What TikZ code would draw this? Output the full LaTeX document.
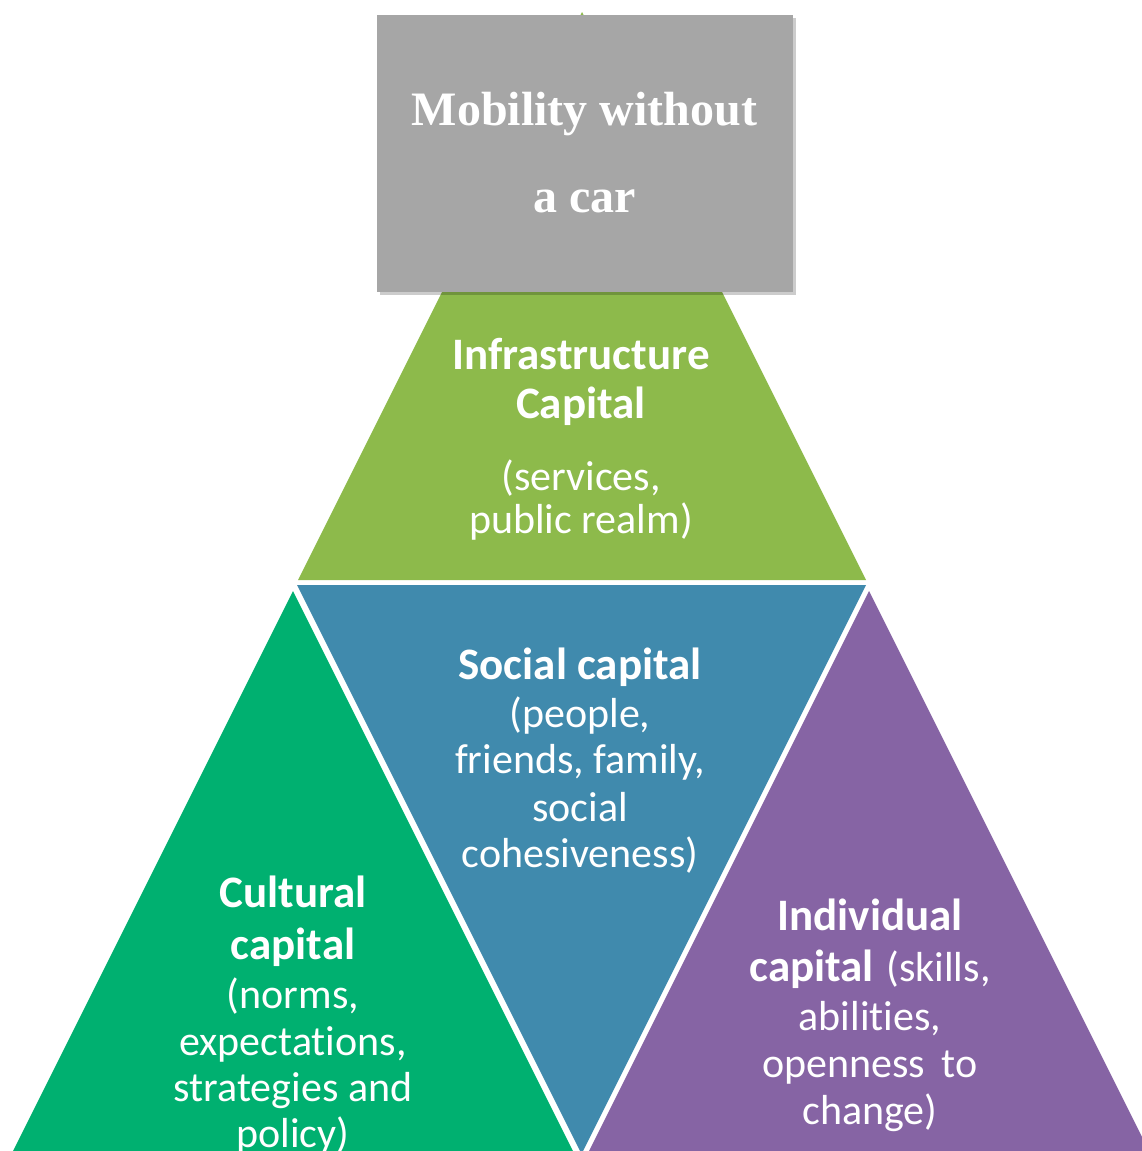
\documentclass[tikz,border=0pt]{standalone}
\usepackage{fontspec}
\setmainfont{Carlito}[Ligatures={NoCommon,NoRequired,NoContextual,NoDiscretionary}]
\newfontfamily\titlefont{Liberation Serif}
\definecolor{boxgrey}{HTML}{A6A6A6}
\definecolor{infragreen}{HTML}{8DBA4B}
\definecolor{socialblue}{HTML}{408AAD}
\definecolor{culturegreen}{HTML}{00B070}
\definecolor{indivpurple}{HTML}{8664A4}
\tikzset{
  boldline/.style={text=white, inner sep=0pt, anchor=base, font=\fontsize{45}{50}\selectfont\bfseries},
  regline/.style={text=white, inner sep=0pt, anchor=base, font=\fontsize{42}{46}\selectfont},
  titleline/.style={text=white, inner sep=0pt, anchor=base, font=\titlefont\fontsize{48}{52}\selectfont\bfseries}
}
\begin{document}
\begin{tikzpicture}[x=1pt,y=-1pt]
\useasboundingbox (0,0) rectangle (1142,1151);
\clip (0,0) rectangle (1142,1151);
\fill[white] (0,0) rectangle (1142,1151);
% triangles
\fill[infragreen] (582,12) -- (866,580) -- (298,580) -- cycle;
\fill[socialblue] (297,585) -- (866,585) -- (581.5,1154) -- cycle;
\fill[culturegreen] (293,591) -- (574,1153) -- (12,1153) -- cycle;
\fill[indivpurple] (869,591) -- (1150,1153) -- (588,1153) -- cycle;
% box with shadow
\fill[black, opacity=0.2] (380,18) rectangle (796,295);
\fill[boxgrey] (377,15) rectangle (793,292);
\node[titleline] (m1) at (584.5,125) {Mobility without};
\node[titleline] (m2) at (584.5,212) {a car};
% infrastructure
\node[boldline] (i1) at (581,369) {Infrastructure};
\node[boldline] (i2) at (581,418) {Capital};
\node[regline] (i3) at (581,490) {(services,};
\node[regline] (i4) at (581,533) {public realm)};
% social
\node[boldline] (s1) at (580,679) {Social capital};
\node[regline] (s2) at (580,727) {(people,};
\node[regline] (s3) at (580,773) {friends, family,};
\node[regline] (s4) at (580,821) {social};
\node[regline] (s5) at (580,867) {cohesiveness)};
% cultural
\node[boldline] (c1) at (293,907) {Cultural};
\node[boldline] (c2) at (293,959) {capital};
\node[regline] (c3) at (293,1008) {(norms,};
\node[regline] (c4) at (293,1055) {expectations,};
\node[regline] (c5) at (293,1101) {strategies and};
\node[regline] (c6) at (293,1147) {policy)};
% individual
\node[boldline] (d1) at (870,930) {Individual};
\node[regline] (d2) at (870,981) {{\fontsize{45}{50}\selectfont\bfseries capital}\hspace{0.3em}(skills,};
\node[regline] (d3) at (870,1030) {abilities,};
\node[regline] (d4) at (870,1077) {openness\hspace{0.4em}to};
\node[regline] (d5) at (870,1124) {change)};
\end{tikzpicture}
\end{document}
